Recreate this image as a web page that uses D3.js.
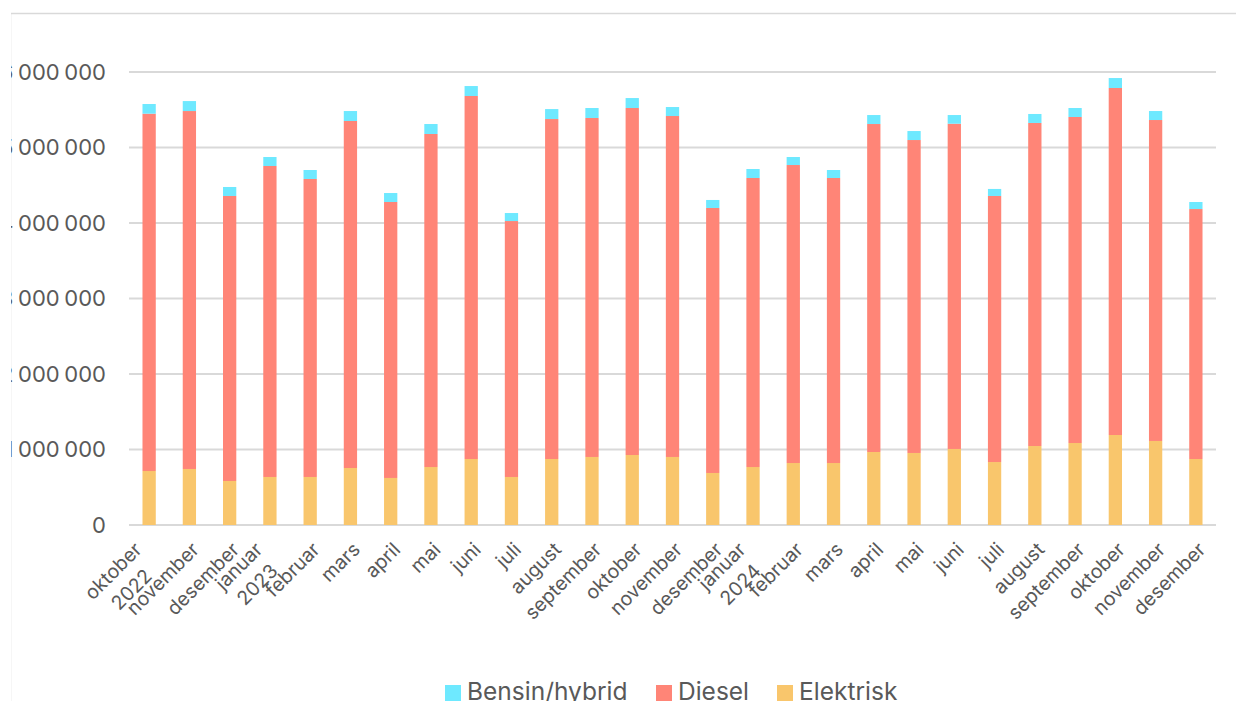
<!DOCTYPE html>
<html>
<head>
<meta charset="utf-8">
<script src="https://cdn.jsdelivr.net/npm/d3@7"></script>
<style>
  html, body { margin: 0; padding: 0; background: #fff; overflow: hidden; }
  svg { display: block; }
  text { font-family: Inter, "Open Sans", sans-serif; fill: #595959; }
</style>
</head>
<body>
<svg id="chart" width="1236" height="701"></svg>
<script>
const months = ["oktober","november","desember","januar","februar","mars","april","mai","juni","juli","august","september","oktober","november","desember","januar","februar","mars","april","mai","juni","juli","august","september","oktober","november","desember"];
const years = ["2022","","","2023","","","","","","","","","","","","2024","","","","","","","","","","",""];
const elektrisk = [715000,742000,583000,636000,636000,755000,623000,768000,874000,636000,874000,901000,927000,901000,689000,768000,821000,821000,967000,954000,1007000,834000,1046000,1086000,1192000,1113000,874000];
const diesel = [4733000,4741000,3775000,4119000,3947000,4596000,3655000,4411000,4808000,3390000,4503000,4490000,4596000,4516000,3510000,3828000,3947000,3775000,4344000,4145000,4308000,3524000,4279000,4318000,4596000,4251000,3311000];
const bensin = [128000,132000,119000,119000,119000,132000,119000,132000,132000,106000,132000,132000,132000,119000,106000,119000,106000,106000,119000,119000,115000,93000,119000,119000,132000,119000,93000];
const yTicks = [0,1000000,2000000,3000000,4000000,5000000,6000000];
const seriesNames = ["Elektrisk","Diesel","Bensin/hybrid"];
const legendOrder = ["Bensin/hybrid","Diesel","Elektrisk"];
const colors = {"Elektrisk":"#f9c66c","Diesel":"#ff8577","Bensin/hybrid":"#6ee9ff"};

const svg = d3.select("#chart");
svg.append("defs").append("clipPath").attr("id","clip")
  .append("rect").attr("x",11).attr("y",0).attr("width",1236).attr("height",701);
const g = svg.append("g").attr("clip-path","url(#clip)");

// frame
g.append("path").attr("d","M10.5,701 L10.5,13.5 L1240,13.5")
  .attr("fill","none").attr("stroke","#d9d9d9").attr("stroke-width",1.5);

const x = d3.scaleBand().domain(d3.range(months.length)).range([129,1216])
  .paddingInner(0.67).paddingOuter(0.335);
const y = d3.scaleLinear().domain([0,6000000]).range([525,72]);

// gridlines
g.append("g").selectAll("line").data(yTicks).join("line")
  .attr("x1",129).attr("x2",1216)
  .attr("y1",d=>y(d)).attr("y2",d=>y(d))
  .attr("stroke","#d9d9d9").attr("stroke-width",2);

// y labels
const fmt = d => d3.format(",")(d).replace(/,/g," ");
g.append("g").selectAll("text").data(yTicks).join("text")
  .attr("x",106).attr("y",d=>y(d)).attr("dy","0.36em")
  .attr("text-anchor","end").style("font-size","22px").style("word-spacing","-1.5px")
  .text(fmt);

// stacked bars
const table = months.map((m,i)=>({i, "Elektrisk":elektrisk[i], "Diesel":diesel[i], "Bensin/hybrid":bensin[i]}));
const stack = d3.stack().keys(seriesNames)(table);
g.append("g").selectAll("g").data(stack).join("g")
  .attr("fill",d=>colors[d.key])
  .selectAll("rect").data(d=>d).join("rect")
  .attr("x",d=>x(d.data.i)).attr("width",x.bandwidth())
  .attr("y",d=>y(d[1])).attr("height",d=>y(d[0])-y(d[1]));

// x labels
const xl = g.append("g");
months.forEach((m,i)=>{
  const c = x(i) + x.bandwidth()/2;
  const two = years[i] !== "";
  const tx = c + 6 + (two ? -17 : 0);
  const lg = xl.append("g").attr("transform",`translate(${tx},546) rotate(-45)`);
  const t = lg.append("text").attr("text-anchor","end").attr("dy","0.35em")
    .style("font-size","19.5px").text(m);
  if (two) {
    const w = t.node().getComputedTextLength();
    lg.append("text").attr("text-anchor","middle").attr("x",-w/2).attr("y",26).attr("dy","0.35em")
      .style("font-size","19.5px").text(years[i]);
  }
});

// legend
const lgd = g.append("g");
const legendX = [445, 656, 777];
legendOrder.forEach((k,j)=>{
  lgd.append("rect").attr("x",legendX[j]).attr("y",685).attr("width",16).attr("height",16).attr("fill",colors[k]);
  lgd.append("text").attr("x",legendX[j]+22).attr("y",700).style("font-size","24.5px").text(k);
});
</script>
</body>
</html>
